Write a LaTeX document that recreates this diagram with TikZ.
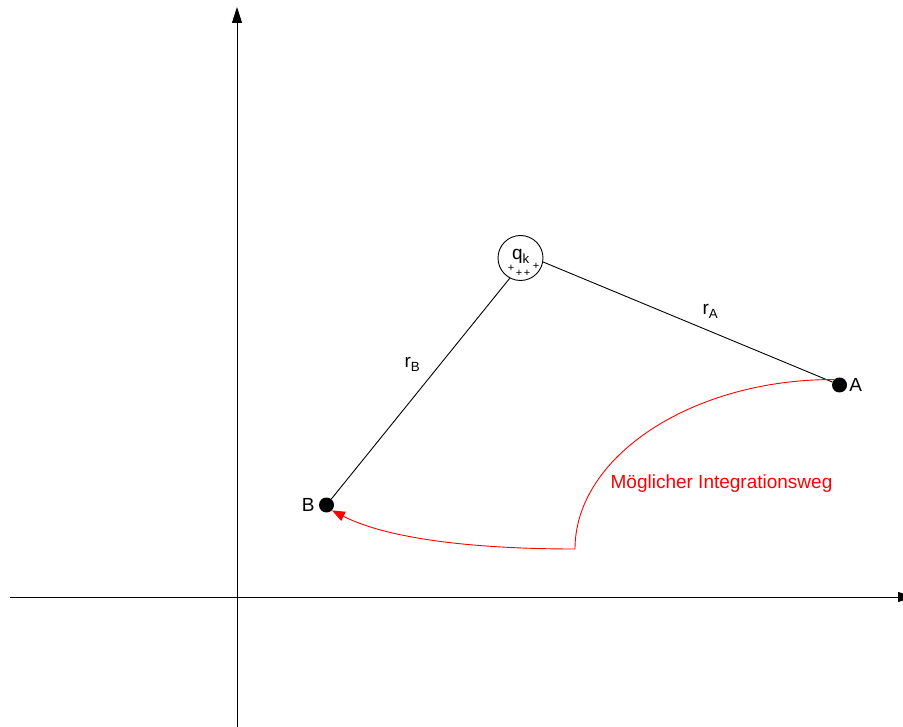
\documentclass[tikz,border=0pt]{standalone}
\usepackage{fontspec}
\setmainfont{Liberation Sans}
\usetikzlibrary{arrows.meta,positioning}

\begin{document}
\begin{tikzpicture}[x=1pt, y=-1pt,
  axis/.style={-{Triangle[length=16pt, width=10pt]}, line width=0.9pt},
  punkt/.style={circle, fill=black, inner sep=0pt, minimum size=15pt},
  lbl/.style={font=\fontsize{19}{22}\selectfont, inner sep=1pt},
  plus/.style={font=\fontsize{11}{11}\selectfont, inner sep=0pt},
  conn/.style={line width=0.9pt},
  weg/.style={red, line width=0.9pt, -{Triangle[length=13pt, width=10pt]}},
]
\useasboundingbox (0,0) rectangle (903,727);

\coordinate (yunten) at (237,727);
\coordinate (yoben) at (237,7);
\coordinate (xlinks) at (10,597);
\coordinate (xrechts) at (914,597);
\draw[axis] (yunten) -- (yoben);
\draw[axis] (xlinks) -- (xrechts);

\node[draw, circle, conn, minimum size=45pt, inner sep=0pt] (qk) at (520.5,258) {};
\node[lbl, anchor=base] (qlbl) at (521,260) {q\textsubscript{k}};
\foreach \px/\py [count=\i] in {511/268, 519/273, 527/273, 536/266}
  \node[plus] (plus\i) at (\px,\py) {+};

\node[punkt] (A) at (839.5,385) {};
\node[lbl, right=1pt of A] (lblA) {A};
\node[punkt] (B) at (326.5,505) {};
\node[lbl, left=3pt of B] (lblB) {B};

\draw[conn] (qk.-10) -- (A);
\draw[conn] (qk.-118) -- (B);
\node[lbl, anchor=base] (lblrA) at (710.5,315) {r\textsubscript{A}};
\node[lbl, anchor=base] (lblrB) at (412.5,368) {r\textsubscript{B}};

\coordinate (knick) at (575,549);
\draw[weg] (A.north west) .. controls (693,379) and (575,456) .. (knick)
  .. controls (480,549) and (390,540) .. (B.-45);
\node[lbl, red, anchor=base] (lblweg) at (721.5,488) {Möglicher Integrationsweg};
\end{tikzpicture}
\end{document}
